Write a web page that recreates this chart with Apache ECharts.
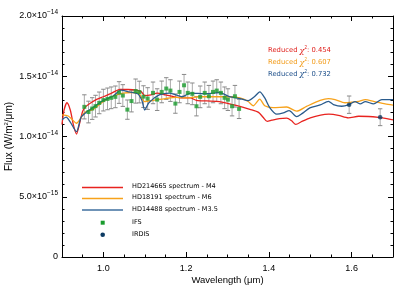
<!DOCTYPE html>
<html><head><meta charset="utf-8">
<script src="https://cdn.jsdelivr.net/npm/echarts@6/dist/echarts.min.js"></script>
<style>html,body{margin:0;padding:0;background:#fff}#c{width:409px;height:292px}</style>
</head><body><div id="c"></div>
<script>
// Flux values in units of 1e-14 W/m^2/um
const redWl   = [0.900,0.905,0.912,0.920,0.928,0.935,0.942,0.950,0.958,0.970,0.985,1.000,1.020,1.040,1.060,1.080,1.092,1.100,1.115,1.130,1.150,1.170,1.190,1.210,1.225,1.250,1.280,1.305,1.330,1.354,1.375,1.386,1.396,1.407,1.425,1.443,1.455,1.465,1.480,1.500,1.525,1.545,1.568,1.592,1.617,1.641,1.665,1.685,1.700];
const redFlux = [1.10,1.22,1.28,1.22,1.09,1.02,1.10,1.21,1.25,1.28,1.31,1.33,1.36,1.39,1.39,1.385,1.37,1.34,1.345,1.36,1.345,1.33,1.32,1.32,1.30,1.295,1.29,1.27,1.25,1.225,1.20,1.16,1.125,1.135,1.148,1.152,1.13,1.10,1.125,1.155,1.178,1.185,1.176,1.155,1.168,1.166,1.158,1.148,1.138];

const orangeWl   = [0.900,0.915,0.925,0.935,0.945,0.955,0.975,1.000,1.020,1.048,1.070,1.085,1.100,1.120,1.150,1.175,1.200,1.230,1.270,1.300,1.330,1.350,1.362,1.378,1.390,1.410,1.443,1.467,1.491,1.524,1.544,1.560,1.584,1.600,1.617,1.633,1.653,1.681,1.700];
const orangeFlux = [1.18,1.17,1.14,1.11,1.15,1.20,1.225,1.29,1.33,1.36,1.365,1.36,1.29,1.30,1.315,1.325,1.32,1.33,1.33,1.33,1.32,1.29,1.255,1.31,1.255,1.24,1.245,1.21,1.25,1.30,1.315,1.306,1.28,1.285,1.292,1.306,1.292,1.27,1.26];

const blueWl   = [0.900,0.910,0.920,0.935,0.946,0.958,0.975,1.000,1.023,1.043,1.063,1.083,1.093,1.100,1.110,1.135,1.160,1.190,1.210,1.250,1.280,1.305,1.330,1.350,1.365,1.378,1.390,1.402,1.419,1.435,1.449,1.467,1.480,1.499,1.524,1.544,1.556,1.576,1.592,1.608,1.621,1.633,1.653,1.673,1.700];
const blueFlux = [1.14,1.16,1.12,1.04,1.16,1.20,1.24,1.30,1.334,1.385,1.37,1.355,1.30,1.22,1.28,1.345,1.36,1.33,1.36,1.355,1.365,1.33,1.315,1.298,1.33,1.37,1.32,1.24,1.185,1.196,1.215,1.165,1.19,1.237,1.262,1.292,1.265,1.251,1.262,1.29,1.27,1.29,1.27,1.306,1.306];

const ifsWl   = [0.954,0.964,0.973,0.981,0.990,1.000,1.010,1.019,1.029,1.038,1.047,1.058,1.068,1.078,1.087,1.097,1.107,1.120,1.130,1.141,1.152,1.162,1.174,1.184,1.195,1.204,1.215,1.225,1.234,1.245,1.255,1.265,1.274,1.284,1.293,1.301,1.311,1.318,1.328];
const ifsFlux = [1.246,1.203,1.232,1.252,1.279,1.302,1.312,1.321,1.329,1.365,1.340,1.223,1.294,1.377,1.369,1.331,1.315,1.362,1.306,1.370,1.398,1.381,1.273,1.370,1.425,1.362,1.354,1.251,1.329,1.362,1.334,1.370,1.381,1.362,1.321,1.306,1.251,1.334,1.229];
const ifsErr  = [0.10,0.09,0.09,0.09,0.09,0.09,0.09,0.09,0.09,0.09,0.09,0.08,0.09,0.10,0.09,0.09,0.09,0.09,0.09,0.09,0.09,0.09,0.08,0.09,0.09,0.09,0.09,0.08,0.09,0.09,0.09,0.09,0.09,0.09,0.09,0.09,0.08,0.09,0.08];

const irdisWl   = [1.594,1.669];
const irdisFlux = [1.264,1.160];
const irdisErr  = [0.072,0.070];

const xMajorTicks = [1.0,1.2,1.4,1.6];
const yTickLabels = {0:'0', 0.5:'5.0×10{s|−15}', 1:'1.0×10{s|−14}', 1.5:'1.5×10{s|−14}', 2:'2.0×10{s|−14}'};

const legendNames = ['HD214665 spectrum - M4','HD18191 spectrum - M6','HD14488 spectrum - M3.5','IFS','IRDIS'];
const chiLabels = ['0.454','0.607','0.732'];

const RED='#e8231f', ORANGE='#f7a21b', BLUE='#2a5b8c', GREEN='#1a9c2e', NAVY='#0c3b63';
const FONT='Liberation Sans', WFONT='DejaVu Sans';

const zip=(a,b)=>a.map((v,i)=>[v,b[i]]);
const errData=(w,f,e)=>w.map((v,i)=>[v,f[i]-e[i],f[i]+e[i]]);

const chart=echarts.init(document.getElementById('c'),null,{renderer:'canvas'});
const axLine={show:true,lineStyle:{color:'#000',width:1}};
const xBase={type:'value',min:0.9,max:1.7,splitLine:{show:false}};
const errRender=(params,api)=>{
  const x=api.value(0), lo=api.coord([x,api.value(1)]), hi=api.coord([x,api.value(2)]);
  const c=2.2;
  return {type:'group',children:[
    {type:'line',shape:{x1:lo[0],y1:lo[1],x2:hi[0],y2:hi[1]},style:{stroke:'#aaaaaa',lineWidth:1}},
    {type:'line',shape:{x1:lo[0]-c,y1:lo[1],x2:lo[0]+c,y2:lo[1]},style:{stroke:'#888',lineWidth:1}},
    {type:'line',shape:{x1:hi[0]-c,y1:hi[1],x2:hi[0]+c,y2:hi[1]},style:{stroke:'#888',lineWidth:1}}
  ]};
};
const lineSeries=(name,w,f,color)=>({name,type:'line',data:zip(w,f),showSymbol:false,smooth:0.25,
  lineStyle:{color,width:1.3},itemStyle:{color},z:3,silent:true});

const legendY=[187.5,198.5,210];
const legendColors=[RED,ORANGE,'#3f6f9f'];
const graphics=[];
legendY.forEach((y,i)=>{
  graphics.push({type:'line',shape:{x1:82,y1:y,x2:123,y2:y},style:{stroke:legendColors[i],lineWidth:1.4}});
  graphics.push({type:'text',x:132,y:y-0.8,style:{text:legendNames[i],fontFamily:WFONT,fontSize:6.5,fill:'#000',verticalAlign:'middle'}});
});
graphics.push({type:'rect',shape:{x:100.7,y:220.7,width:4,height:4},style:{fill:GREEN}});
graphics.push({type:'text',x:132,y:222,style:{text:legendNames[3],fontFamily:WFONT,fontSize:6.5,fill:'#000',verticalAlign:'middle'}});
graphics.push({type:'circle',shape:{cx:102.7,cy:234.7,r:2.3},style:{fill:NAVY}});
graphics.push({type:'text',x:132,y:234,style:{text:legendNames[4],fontFamily:WFONT,fontSize:6.5,fill:'#000',verticalAlign:'middle'}});
[[50.7,'#e0201c'],[62.7,'#f29a16'],[74.3,'#1d4f8a']].forEach((p,i)=>{
  graphics.push({type:'text',x:268,y:p[0],style:{text:'Reduced {g|χ}{s|2}: '+chiLabels[i],fontFamily:WFONT,fontSize:6.8,fill:p[1],verticalAlign:'middle',
    rich:{g:{fontFamily:'DejaVu Serif',fontStyle:'italic',fontSize:8,fill:p[1]},s:{fontSize:4.5,fill:p[1],verticalAlign:'bottom',padding:[0,0,6,0]}}}});
});
graphics.push({type:'text',x:9,y:136.5,rotation:Math.PI/2,style:{text:'Flux (W/m{s|2}/μm)',fontFamily:FONT,fontSize:10,fill:'#000',align:'center',verticalAlign:'middle',
  rich:{s:{fontSize:6,verticalAlign:'bottom',padding:[0,0,6,0]}}}});
graphics.push({type:'text',x:227.5,y:280,style:{text:'Wavelength (μm)',fontFamily:FONT,fontSize:9.5,fill:'#000',align:'center',verticalAlign:'middle'}});

chart.setOption({
  animation:false,
  backgroundColor:'#fff',
  grid:{left:62,right:16,top:16,bottom:35,containLabel:false},
  xAxis:[
    Object.assign({},xBase,{position:'bottom',axisLine:axLine,
      axisTick:{show:true,inside:true,length:5,customValues:xMajorTicks,lineStyle:{color:'#000'}},
      axisLabel:{show:true,customValues:xMajorTicks,formatter:v=>v.toFixed(1),margin:7,fontFamily:FONT,fontSize:9,color:'#000'}}),
    Object.assign({},xBase,{position:'bottom',interval:0.05,axisLine:{show:false},
      axisTick:{show:true,inside:true,length:2.5,lineStyle:{color:'#000'}},axisLabel:{show:false}}),
    Object.assign({},xBase,{position:'top',axisLine:axLine,
      axisTick:{show:true,inside:true,length:5,customValues:xMajorTicks,lineStyle:{color:'#000'}},axisLabel:{show:false}}),
    Object.assign({},xBase,{position:'top',interval:0.05,axisLine:{show:false},
      axisTick:{show:true,inside:true,length:2.5,lineStyle:{color:'#000'}},axisLabel:{show:false}})
  ],
  yAxis:[
    {type:'value',position:'left',min:0,max:2,interval:0.5,splitLine:{show:false},axisLine:axLine,
      axisTick:{show:true,inside:true,length:5,lineStyle:{color:'#000'}},
      minorTick:{show:true,splitNumber:5,length:2.5,lineStyle:{color:'#000'}},minorSplitLine:{show:false},
      axisLabel:{show:true,margin:4,fontFamily:FONT,fontSize:9,color:'#000',formatter:v=>yTickLabels[v],
        rich:{s:{fontSize:6.5,fontFamily:FONT,color:'#000',verticalAlign:'bottom',padding:[0,0,7,0]}}}},
    {type:'value',position:'right',min:0,max:2,interval:0.5,splitLine:{show:false},axisLine:axLine,
      axisTick:{show:true,inside:true,length:5,lineStyle:{color:'#000'}},
      minorTick:{show:true,splitNumber:5,length:2.5,lineStyle:{color:'#000'}},axisLabel:{show:false}}
  ],
  series:[
    {type:'custom',renderItem:errRender,data:errData(ifsWl,ifsFlux,ifsErr),encode:{x:0,y:[1,2]},z:1,silent:true},
    {type:'custom',renderItem:errRender,data:errData(irdisWl,irdisFlux,irdisErr),encode:{x:0,y:[1,2]},z:1,silent:true},
    lineSeries(legendNames[0],redWl,redFlux,RED),
    lineSeries(legendNames[1],orangeWl,orangeFlux,ORANGE),
    lineSeries(legendNames[2],blueWl,blueFlux,BLUE),
    {name:'IFS',type:'scatter',data:zip(ifsWl,ifsFlux),symbol:'rect',symbolSize:4,itemStyle:{color:GREEN},z:4,silent:true},
    {name:'IRDIS',type:'scatter',data:zip(irdisWl,irdisFlux),symbol:'circle',symbolSize:4.6,itemStyle:{color:NAVY},z:4,silent:true}
  ],
  graphic:graphics
});
</script></body></html>
